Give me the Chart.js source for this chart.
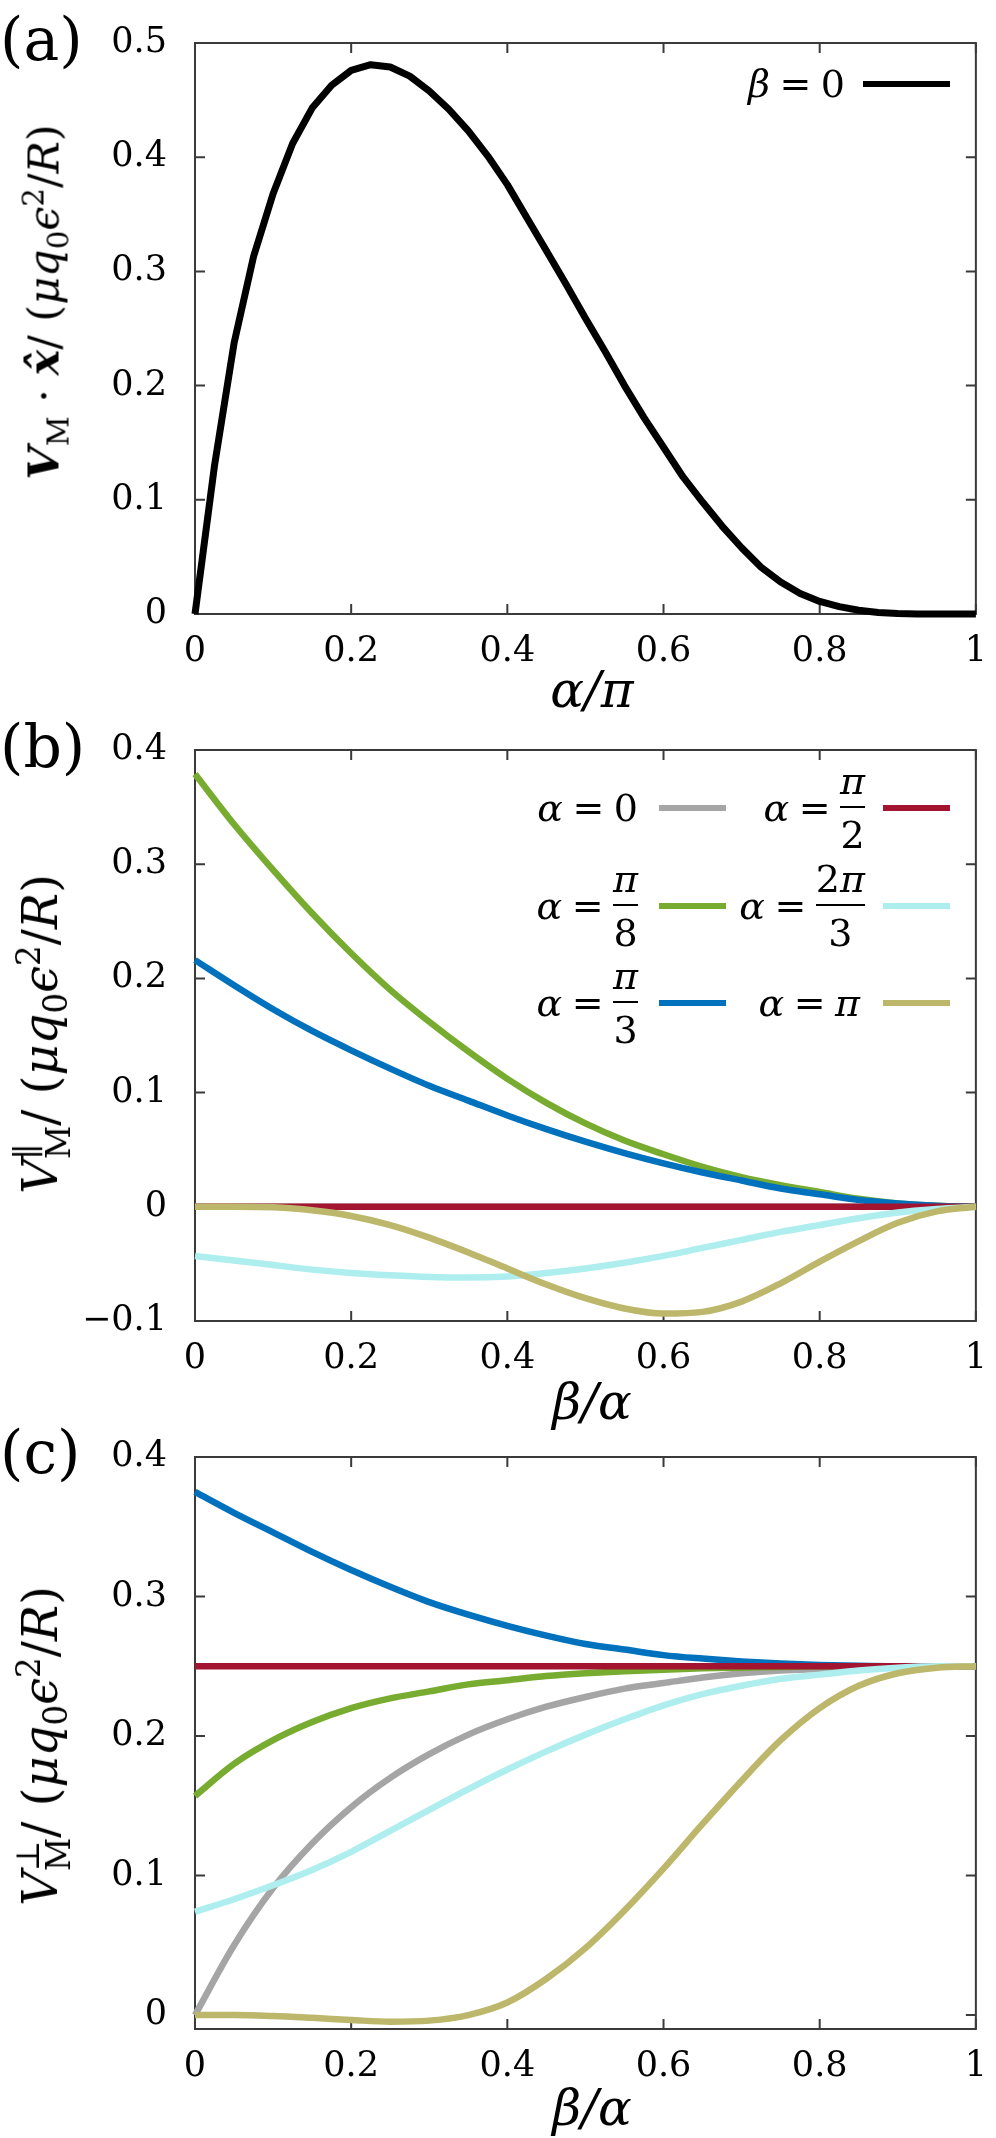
<!DOCTYPE html>
<html>
<head>
<meta charset="utf-8">
<script src="https://cdn.jsdelivr.net/npm/chart.js@4.4.1/dist/chart.umd.min.js"></script>
<style>
body { margin: 0; background: #fff; }
#page { position: relative; width: 996px; height: 2138px; overflow: hidden; background: #fff; }
canvas { position: absolute; left: 0; }
.t { position: absolute; font-family: "DejaVu Serif", serif; color: #000; white-space: nowrap; line-height: 1; }
.ylab { transform: translate(-50%, -50%) rotate(-90deg); font-size: 48px; }
.ylab.a { font-size: 43px; }
.xlab { transform: translate(-50%, -50%); font-size: 50px; font-style: italic; }
.plab { font-size: 60px; transform: translateY(-50%); left: 0; }
.t sub, .t sup { font-size: 0.68em; font-style: normal; line-height: 0; }
.ss { display: inline-flex; flex-direction: column; font-size: 0.68em; line-height: 0.95; vertical-align: middle; font-style: normal; }
.leg { position: absolute; display: flex; align-items: center; font-family: "DejaVu Serif", serif; font-size: 38px; transform: translateY(-50%); white-space: nowrap; }
.eq { margin: 0 0.25em; }
.frac { display: inline-flex; flex-direction: column; align-items: center; line-height: 42px; }
.frac .bar { align-self: stretch; height: 2px; background: #000; margin: 4px 0 6px 0; }
.frac span { font-style: italic; }
.frac .den { font-style: normal; }
.swatch { position: absolute; height: 6px; transform: translateY(-50%); }
</style>
</head>
<body>
<div id="page">
  <canvas id="chartA" width="996" height="707" style="top:0px"></canvas>
  <canvas id="chartB" width="996" height="707" style="top:707px"></canvas>
  <canvas id="chartC" width="996" height="724" style="top:1414px"></canvas>

  <div class="t plab" style="top:39px">(a)</div>
  <div class="t plab" style="top:746px">(b)</div>
  <div class="t plab" style="top:1452px">(c)</div>

  <div class="t ylab a" style="left:44px; top:302px"><b><i>V</i></b><sub>M</sub> · <b><i>x̂</i></b>/ (<i>μq</i><sub>0</sub><i>ϵ</i><sup>2</sup>/<i>R</i>)</div>
  <div class="t ylab" style="left:44px; top:1034px"><i>V</i><span class="ss"><span>∥</span><span>M</span></span>/ (<i>μq</i><sub>0</sub><i>ϵ</i><sup>2</sup>/<i>R</i>)</div>
  <div class="t ylab" style="left:44px; top:1746px"><i>V</i><span class="ss"><span>⊥</span><span>M</span></span>/ (<i>μq</i><sub>0</sub><i>ϵ</i><sup>2</sup>/<i>R</i>)</div>

  <div class="t xlab" style="left:592px; top:690px">α/π</div>
  <div class="t xlab" style="left:592px; top:1402px">β/α</div>
  <div class="t xlab" style="left:592px; top:2108px">β/α</div>

  <!-- legend (a) -->
  <div class="leg" style="right:151px; top:84px"><i>β</i><span class="eq">=</span>0</div>
  <div class="swatch" style="left:863px; width:87px; top:84px; background:#000"></div>

  <!-- legend (b) -->
  <div class="leg" style="right:358px; top:808px"><i>α</i><span class="eq">=</span>0</div>
  <div class="swatch" style="left:659px; width:67px; top:808px; background:#a5a5a5"></div>
  <div class="leg" style="right:131px; top:808px"><i>α</i><span class="eq">=</span><span class="frac"><span>π</span><span class="bar"></span><span class="den">2</span></span></div>
  <div class="swatch" style="left:883px; width:67px; top:808px; background:#a2142f"></div>

  <div class="leg" style="right:358px; top:906px"><i>α</i><span class="eq">=</span><span class="frac"><span>π</span><span class="bar"></span><span class="den">8</span></span></div>
  <div class="swatch" style="left:659px; width:67px; top:906px; background:#77ac30"></div>
  <div class="leg" style="right:131px; top:906px"><i>α</i><span class="eq">=</span><span class="frac"><span><span class="den">2</span>π</span><span class="bar"></span><span class="den">3</span></span></div>
  <div class="swatch" style="left:883px; width:67px; top:906px; background:#afeeee"></div>

  <div class="leg" style="right:358px; top:1003px"><i>α</i><span class="eq">=</span><span class="frac"><span>π</span><span class="bar"></span><span class="den">3</span></span></div>
  <div class="swatch" style="left:659px; width:67px; top:1003px; background:#0072bd"></div>
  <div class="leg" style="right:136px; top:1003px"><i>α</i><span class="eq">=</span><i>π</i></div>
  <div class="swatch" style="left:883px; width:67px; top:1003px; background:#bdb76b"></div>
</div>

<script>
// values

// (a) beta = 0
var alphaOverPi = [0, 0.025, 0.05, 0.075, 0.1, 0.125, 0.15, 0.175, 0.2, 0.225,
  0.25, 0.275, 0.3, 0.325, 0.35, 0.375, 0.4, 0.425, 0.45, 0.475,
  0.5, 0.525, 0.55, 0.575, 0.6, 0.625, 0.65, 0.675, 0.7, 0.725,
  0.75, 0.775, 0.8, 0.825, 0.85, 0.875, 0.9, 0.925, 0.95, 0.975, 1];
var vxBeta0 = [0, 0.13, 0.237, 0.313, 0.368, 0.412, 0.443, 0.463, 0.476, 0.481,
  0.479, 0.471, 0.458, 0.442, 0.423, 0.401, 0.376, 0.347, 0.318, 0.289,
  0.259, 0.23, 0.2, 0.172, 0.146, 0.12, 0.098, 0.077, 0.058, 0.041,
  0.028, 0.018, 0.011, 0.0065, 0.0033, 0.0014, 0.0005, 0.0001, 0, 0, 0];

// (b), (c) x axis
var betaOverAlpha = [0, 0.05, 0.1, 0.15, 0.2, 0.25, 0.3, 0.35, 0.4, 0.45,
  0.5, 0.55, 0.6, 0.65, 0.7, 0.75, 0.8, 0.85, 0.9, 0.95, 1];

// (b) parallel component
var parA0    = [0, 0, 0, 0, 0, 0, 0, 0, 0, 0, 0, 0, 0, 0, 0, 0, 0, 0, 0, 0, 0];
var parPi8   = [0.379, 0.335, 0.295, 0.257, 0.222, 0.19, 0.162, 0.136, 0.112, 0.091,
  0.073, 0.058, 0.046, 0.035, 0.026, 0.019, 0.013, 0.007, 0.003, 0.001, 0];
var parPi3   = [0.216, 0.194, 0.173, 0.154, 0.137, 0.121, 0.106, 0.093, 0.08, 0.068,
  0.057, 0.047, 0.038, 0.03, 0.023, 0.016, 0.011, 0.006, 0.003, 0.001, 0];
var parPi2   = [0, 0, 0, 0, 0, 0, 0, 0, 0, 0, 0, 0, 0, 0, 0, 0, 0, 0, 0, 0, 0];
var par2Pi3  = [-0.043, -0.047, -0.051, -0.055, -0.058, -0.06, -0.0615, -0.062, -0.061, -0.058,
  -0.054, -0.049, -0.043, -0.036, -0.029, -0.022, -0.016, -0.01, -0.005, -0.002, 0];
var parPi    = [0, 0, -0.0005, -0.003, -0.008, -0.016, -0.027, -0.04, -0.054, -0.068,
  -0.08, -0.089, -0.0935, -0.092, -0.083, -0.067, -0.048, -0.03, -0.014, -0.004, 0];

// (c) perpendicular component
var perpA0   = [0, 0.05, 0.091, 0.123, 0.149, 0.17, 0.187, 0.201, 0.212, 0.221,
  0.228, 0.234, 0.238, 0.242, 0.245, 0.247, 0.248, 0.249, 0.2495, 0.25, 0.25];
var perpPi8  = [0.157, 0.18, 0.197, 0.21, 0.22, 0.227, 0.232, 0.237, 0.24, 0.243,
  0.245, 0.2465, 0.2475, 0.2485, 0.249, 0.2495, 0.25, 0.25, 0.25, 0.25, 0.25];
var perpPi3  = [0.375, 0.36, 0.346, 0.332, 0.319, 0.307, 0.296, 0.287, 0.279, 0.272,
  0.266, 0.262, 0.258, 0.2555, 0.2535, 0.252, 0.251, 0.2503, 0.25, 0.25, 0.25];
var perpPi2  = [0.25, 0.25, 0.25, 0.25, 0.25, 0.25, 0.25, 0.25, 0.25, 0.25,
  0.25, 0.25, 0.25, 0.25, 0.25, 0.25, 0.25, 0.25, 0.25, 0.25, 0.25];
var perp2Pi3 = [0.074, 0.083, 0.093, 0.104, 0.117, 0.132, 0.147, 0.162, 0.176, 0.189,
  0.201, 0.212, 0.222, 0.23, 0.236, 0.241, 0.244, 0.247, 0.249, 0.25, 0.25];
var perpPi   = [0, 0, -0.0007, -0.002, -0.0035, -0.0048, -0.004, 0, 0.009, 0.026,
  0.048, 0.075, 0.105, 0.137, 0.168, 0.197, 0.22, 0.236, 0.245, 0.249, 0.25];

var xTicks  = [0, 0.2, 0.4, 0.6, 0.8, 1];
var yTicksA = [0, 0.1, 0.2, 0.3, 0.4, 0.5];
var yTicksB = [-0.1, 0, 0.1, 0.2, 0.3, 0.4];
var yTicksC = [0, 0.1, 0.2, 0.3, 0.4];

var colGray = '#a5a5a5', colRed = '#a2142f', colGreen = '#77ac30',
    colBlue = '#0072bd', colCyan = '#afeeee', colOlive = '#bdb76b';

var tickFont = { family: '"DejaVu Serif", serif', size: 35 };

function fmt(v) {
  return String(+Number(v).toFixed(2)).replace('-', '\u2212');
}

// gnuplot style box with inward ticks on all four sides
var framePlugin = {
  id: 'frame',
  beforeDatasetsDraw: function(chart) {
    var ctx = chart.ctx, a = chart.chartArea, sx = chart.scales.x, sy = chart.scales.y;
    ctx.save();
    ctx.strokeStyle = '#3a3a3a';
    ctx.lineWidth = 2;
    ctx.strokeRect(a.left, a.top, a.right - a.left, a.bottom - a.top);
    ctx.beginPath();
    sx.ticks.forEach(function(t) {
      var p = sx.getPixelForValue(t.value);
      ctx.moveTo(p, a.bottom); ctx.lineTo(p, a.bottom - 10);
      ctx.moveTo(p, a.top); ctx.lineTo(p, a.top + 10);
    });
    sy.ticks.forEach(function(t) {
      var p = sy.getPixelForValue(t.value);
      ctx.moveTo(a.left, p); ctx.lineTo(a.left + 10, p);
      ctx.moveTo(a.right, p); ctx.lineTo(a.right - 10, p);
    });
    ctx.stroke();
    ctx.restore();
  }
};

function makePanel(id, xs, series, yMin, yMax, yTicks, xHeight) {
  return new Chart(document.getElementById(id), {
    type: 'line',
    data: {
      datasets: series.map(function(s, i) {
        return {
          data: xs.map(function(x, k) { return { x: x, y: s.values[k] }; }),
          borderColor: s.color,
          borderWidth: s.width,
          borderJoinStyle: 'round',
          pointRadius: 0,
          fill: false,
          cubicInterpolationMode: s.smooth ? 'monotone' : 'default',
          tension: 0,
          clip: 10,
          order: series.length - i
        };
      })
    },
    options: {
      responsive: false,
      animation: false,
      devicePixelRatio: 1,
      layout: { padding: { left: 0, top: 43, right: 7, bottom: 0 } },
      plugins: { legend: { display: false }, tooltip: { enabled: false } },
      scales: {
        x: {
          type: 'linear', min: 0, max: 1,
          grid: { display: false }, border: { display: false },
          afterBuildTicks: function(s) { s.ticks = xTicks.map(function(v) { return { value: v }; }); },
          afterFit: function(s) { s.height = xHeight; },
          ticks: { font: tickFont, color: '#000', padding: 9, maxRotation: 0, autoSkip: false, callback: fmt }
        },
        y: {
          type: 'linear', min: yMin, max: yMax,
          grid: { display: false }, border: { display: false },
          afterBuildTicks: function(s) { s.ticks = yTicks.map(function(v) { return { value: v }; }); },
          afterFit: function(s) { s.width = 195; },
          ticks: { font: tickFont, color: '#000', padding: 20, autoSkip: false, callback: fmt }
        }
      }
    },
    plugins: [framePlugin]
  });
}

makePanel('chartA', alphaOverPi, [
  { values: vxBeta0, color: '#000', width: 7, smooth: false }
], 0, 0.5, yTicksA, 93);

makePanel('chartB', betaOverAlpha, [
  { values: parA0, color: colGray, width: 6.5, smooth: true },
  { values: parPi8, color: colGreen, width: 6.5, smooth: true },
  { values: parPi3, color: colBlue, width: 6.5, smooth: true },
  { values: parPi2, color: colRed, width: 6.5, smooth: true },
  { values: par2Pi3, color: colCyan, width: 6.5, smooth: true },
  { values: parPi, color: colOlive, width: 6.5, smooth: true }
], -0.1, 0.4, yTicksB, 93);

makePanel('chartC', betaOverAlpha, [
  { values: perpA0, color: colGray, width: 6.5, smooth: true },
  { values: perpPi8, color: colGreen, width: 6.5, smooth: true },
  { values: perpPi3, color: colBlue, width: 6.5, smooth: true },
  { values: perpPi2, color: colRed, width: 6.5, smooth: true },
  { values: perp2Pi3, color: colCyan, width: 6.5, smooth: true },
  { values: perpPi, color: colOlive, width: 6.5, smooth: true }
], -0.01, 0.4, yTicksC, 109);
</script>
</body>
</html>
